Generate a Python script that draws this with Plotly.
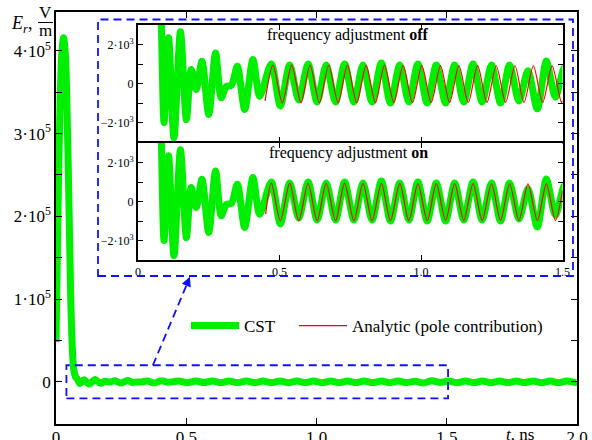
import plotly.graph_objects as go

# ---------------- data ----------------
# CST field E_r (V/m) vs time t (ns): pulse, transient ripple, regular ringing (extrema)
t_cst = [0.000, 0.005, 0.010, 0.016, 0.022, 0.029, 0.036, 0.043, 0.050, 0.056,
         0.062, 0.068, 0.075, 0.082,
         0.092, 0.108, 0.127, 0.150, 0.171, 0.188, 0.206, 0.226, 0.250, 0.274,
         0.294, 0.312, 0.330, 0.351, 0.377, 0.406, 0.430,
         0.471, 0.503, 0.536, 0.568, 0.601, 0.633, 0.665, 0.698, 0.730, 0.763,
         0.795, 0.827, 0.860, 0.892, 0.925, 0.957, 0.989, 1.022, 1.054, 1.087,
         1.119, 1.151, 1.184, 1.216, 1.249, 1.281, 1.313, 1.346, 1.378, 1.411,
         1.443, 1.475, 1.508, 1.540, 1.573, 1.605, 1.637, 1.670, 1.702, 1.735,
         1.767, 1.799, 1.832, 1.864, 1.897, 1.929, 1.961, 1.994, 2.000]
e_cst = [48000, 150000, 250000, 340000, 395000, 416000, 395000, 320000, 210000, 110000,
         45000, 15000, 6000, 3300,
         -2000, 2340, -2780, 2650, -1850, 720, -310, 1140, -1590, 1570,
         -730, -150, -100, 890, -1330, 1230, -650,
         1000, -1150, 950, -850, 1000, -950, 950, -950, 1000, -950,
         950, -950, 1050, -1000, 950, -950, 1000, -1000, 950, -1000,
         950, -950, 1000, -950, 950, -1000, 950, -900, 650, -1300,
         1150, -700, 850, -1000, 900, -900, 1000, -1000, 900, -950,
         950, -900, 1000, -1000, 900, -950, 950, -900, -700]

# Analytic (pole contribution), frequency adjustment on
t_on = [0.451, 0.471, 0.503, 0.536, 0.568, 0.601, 0.633, 0.665, 0.698, 0.730, 0.763,
        0.795, 0.827, 0.860, 0.892, 0.925, 0.957, 0.989, 1.022, 1.054, 1.087,
        1.119, 1.151, 1.184, 1.216, 1.249, 1.281, 1.313, 1.346, 1.378, 1.411,
        1.443, 1.475, 1.500]
e_on = [-650, 940, -990, 940, -990, 935, -985, 935, -985, 930, -985,
        930, -980, 925, -980, 925, -980, 920, -975, 920, -975,
        915, -975, 915, -970, 910, -970, 910, -970, 905, -970,
        905, -965, 550]

# Analytic (pole contribution), frequency adjustment off
t_off = [0.449, 0.477, 0.510, 0.543, 0.576, 0.608, 0.641, 0.674, 0.707, 0.740, 0.773,
         0.806, 0.839, 0.871, 0.904, 0.937, 0.970, 1.003, 1.036, 1.069, 1.101,
         1.134, 1.167, 1.200, 1.233, 1.266, 1.299, 1.332, 1.364, 1.397, 1.430,
         1.463, 1.496, 1.500]
e_off = [-890, 940, -990, 940, -990, 935, -985, 935, -985, 930, -985,
         930, -980, 925, -980, 925, -980, 920, -975, 920, -975,
         915, -975, 915, -970, 910, -970, 910, -970, 905, -970,
         905, -965, -900]

# tick labels
main_yvals = [0, 100000, 200000, 300000, 400000]
main_ytext = ["0", "1·10<sup>5</sup>", "2·10<sup>5</sup>", "3·10<sup>5</sup>", "4·10<sup>5</sup>"]
main_yminor = [50000, 150000, 250000, 350000]
main_xvals = [0, 0.5, 1.0, 1.5, 2.0]
main_xtext = ["0", "0.5", "1.0", "1.5", "2.0"]
ins_yvals = [-2000, 0, 2000]
ins_ytext = ["−2·10<sup>3</sup>", "0", "2·10<sup>3</sup>"]
ins_yminor = [-1000, 1000]
ins_xvals = [0, 0.5, 1.0, 1.5]
ins_xtext = ["0", "0.5", "1.0", "1.5"]

# ---------------- figure ----------------
W, H = 592, 440
FONT = "Liberation Serif, Times New Roman, serif"
GREEN = "#00ee00"
RED = "#ff0000"
BLUE = "#1010ff"

def px(x):
    return x / W

def py(y):
    return (H - y) / H

fig = go.Figure()

# main
fig.add_trace(go.Scatter(x=t_cst, y=e_cst, mode="lines", name="CST",
                         line=dict(color=GREEN, width=7, shape="spline", smoothing=0.8),
                         xaxis="x", yaxis="y", showlegend=True, legend="legend"))
fig.add_trace(go.Scatter(x=[None], y=[None], mode="lines", name="Analytic (pole contribution)",
                         line=dict(color=RED, width=1.3), xaxis="x", yaxis="y",
                         showlegend=True, legend="legend2"))
# top inset (adjustment off)
fig.add_trace(go.Scatter(x=t_cst, y=e_cst, mode="lines", showlegend=False,
                         line=dict(color=GREEN, width=7, shape="spline", smoothing=0.8),
                         xaxis="x2", yaxis="y2"))
fig.add_trace(go.Scatter(x=t_off, y=e_off, mode="lines", showlegend=False,
                         line=dict(color=RED, width=1.2, shape="spline", smoothing=0.8),
                         xaxis="x2", yaxis="y2"))
# bottom inset (adjustment on)
fig.add_trace(go.Scatter(x=t_cst, y=e_cst, mode="lines", showlegend=False,
                         line=dict(color=GREEN, width=7, shape="spline", smoothing=0.8),
                         xaxis="x3", yaxis="y3"))
fig.add_trace(go.Scatter(x=t_on, y=e_on, mode="lines", showlegend=False,
                         line=dict(color=RED, width=1.2, shape="spline", smoothing=0.8),
                         xaxis="x3", yaxis="y3"))

axis_common = dict(showline=True, linecolor="black", mirror="ticks", ticks="inside",
                   showgrid=False, zeroline=False, tickcolor="black", automargin=False)
big = dict(size=17, family=FONT, color="black")
small = dict(size=12, family=FONT, color="black")
legfont = dict(size=17, family=FONT, color="black")

fig.update_layout(
    width=W, height=H, margin=dict(l=0, r=0, t=0, b=0, autoexpand=False),
    paper_bgcolor="white", plot_bgcolor="white",
    font=dict(family=FONT, color="black", size=16),
    xaxis=dict(domain=[px(56), px(577)], range=[0, 2.0], tickmode="array",
               tickvals=main_xvals, ticktext=main_xtext, ticklabelstandoff=-3,
               anchor="y", linewidth=1.5, ticklen=6, tickwidth=1.2,
               tickfont=big, **axis_common),
    yaxis=dict(domain=[py(424), py(12)], range=[-51000, 447000], tickmode="array",
               tickvals=main_yvals, ticktext=main_ytext,
               minor=dict(tickmode="array", tickvals=main_yminor, ticks="inside", ticklen=6,
                          tickwidth=1.2, tickcolor="black"),
               anchor="x", linewidth=1.5, ticklen=6, tickwidth=1.2,
               tickfont=big, **axis_common),
    xaxis2=dict(domain=[px(138), px(562.5)], range=[0, 1.5], tickmode="array",
                tickvals=ins_xvals, showticklabels=False,
                anchor="y2", linewidth=2, ticklen=5, tickwidth=1.2, tickfont=small, **axis_common),
    yaxis2=dict(domain=[py(142), py(25)], range=[-3000, 3000], tickmode="array",
                tickvals=ins_yvals, ticktext=ins_ytext,
                minor=dict(tickmode="array", tickvals=ins_yminor, ticks="inside", ticklen=5,
                           tickwidth=1.2, tickcolor="black"),
                anchor="x2", linewidth=2, ticklen=5, tickwidth=1.2, tickfont=small, **axis_common),
    xaxis3=dict(domain=[px(138), px(562.5)], range=[0, 1.5], tickmode="array",
                tickvals=ins_xvals, ticktext=ins_xtext,
                anchor="y3", linewidth=2, ticklen=5, tickwidth=1.2, tickfont=small, **axis_common),
    yaxis3=dict(domain=[py(260), py(143)], range=[-3000, 3000], tickmode="array",
                tickvals=ins_yvals, ticktext=ins_ytext,
                minor=dict(tickmode="array", tickvals=ins_yminor, ticks="inside", ticklen=5,
                           tickwidth=1.2, tickcolor="black"),
                anchor="x3", linewidth=2, ticklen=5, tickwidth=1.2, tickfont=small, **axis_common),
    legend=dict(orientation="h", x=px(186), y=py(326), xanchor="left", yanchor="middle",
                bgcolor="rgba(0,0,0,0)", font=legfont, itemwidth=48),
    legend2=dict(orientation="h", x=px(294), y=py(326), xanchor="left", yanchor="middle",
                 bgcolor="rgba(0,0,0,0)", font=legfont, itemwidth=48),
)

# dashed boxes and arrow
fig.add_shape(type="rect", xref="x", yref="y", x0=0.04, x1=1.505, y0=-20000, y1=20000,
              line=dict(color=BLUE, width=1.8, dash="8px,5px"))
fig.add_shape(type="rect", xref="paper", yref="paper", x0=px(98), x1=px(573), y0=py(276), y1=py(19.5),
              line=dict(color=BLUE, width=1.8, dash="8px,5px"))
fig.add_shape(type="line", xref="x", yref="y", x0=0.372, y0=20000, x1=0.508, y1=122000,
              line=dict(color=BLUE, width=1.8, dash="8px,5px"))
fig.add_annotation(x=0.514, y=127000, xref="x", yref="y", ax=0.500, ay=116000, axref="x", ayref="y",
                   showarrow=True, arrowhead=2, arrowsize=1.2, arrowwidth=1.6, arrowcolor=BLUE, text="")

def label(x, y, text, size, xanchor="center"):
    fig.add_annotation(x=px(x), y=py(y), xref="paper", yref="paper", showarrow=False,
                       xanchor=xanchor, yanchor="middle", text=text,
                       font=dict(size=size, family=FONT, color="black"))

# panel texts
label(348, 35, "frequency adjustment <b>off</b>", 16)
label(348, 153, "frequency adjustment <b>on</b>", 16)

# axis labels
label(9, 24, "<i>E<sub>r</sub></i>,", 18, xanchor="left")
label(45.5, 13, "V", 17)
label(45.5, 31, "m", 17)
fig.add_shape(type="line", xref="paper", yref="paper", x0=px(38), x1=px(53), y0=py(22.5), y1=py(22.5),
              line=dict(color="black", width=1))
label(520, 434, "<i>t</i>, ns", 17)

fig.write_html("out.html", config={"displayModeBar": False},
               post_script="document.body.style.margin='0px';document.body.style.overflow='hidden';")
